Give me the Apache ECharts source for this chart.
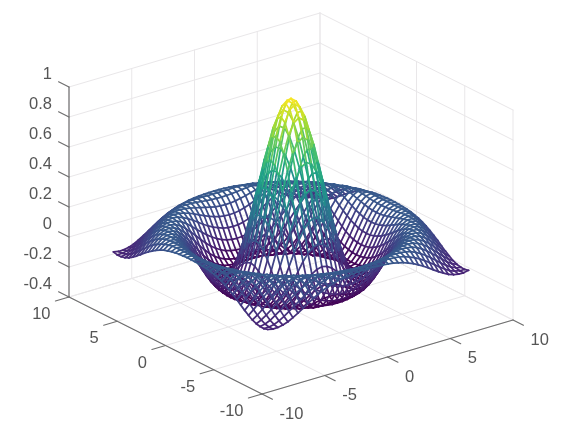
<!DOCTYPE html>
<html>
<head>
<meta charset="utf-8">
<style>html,body{margin:0;padding:0;background:#fff}#c{width:568px;height:430px}</style>
<script src="https://cdn.jsdelivr.net/npm/echarts@6/dist/echarts.min.js"></script>
</head>
<body>
<div id="c"></div>
<script>
// ---- data -----------------------------------------------------------
const xTicks = [-10, -5, 0, 5, 10];
const yTicks = [-10, -5, 0, 5, 10];
const zTicks = [-0.4, -0.2, 0, 0.2, 0.4, 0.6, 0.8, 1];
const zTickLabels = ['-0.4', '-0.2', '0', '0.2', '0.4', '0.6', '0.8', '1'];
const meshCoords = [-8,-7.6,-7.2,-6.8,-6.4,-6,-5.6,-5.2,-4.8,-4.4,-4,-3.6,-3.2,-2.8,-2.4,-2,-1.6,-1.2,-0.8,-0.4,0,
  0.4,0.8,1.2,1.6,2,2.4,2.8,3.2,3.6,4,4.4,4.8,5.2,5.6,6,6.4,6.8,7.2,7.6,8];
// Heights of one octant of the surface (row r, columns r..20, centre first).
const zOctant = [
  [1,.974,.897,.777,.625,.455,.281,.120,-.018,-.123,-.189,-.216,-.208,-.170,-.113,-.047,.018,.073,.110,.127,.124],
  [.947,.872,.754,.604,.437,.267,.109,-.026,-.127,-.191,-.216,-.207,-.168,-.111,-.045,.020,.074,.111,.127,.124],
  [.800,.688,.546,.388,.227,.078,-.047,-.141,-.197,-.217,-.203,-.162,-.104,-.038,.025,.078,.113,.127,.122],
  [.584,.455,.311,.165,.032,-.080,-.160,-.205,-.216,-.196,-.152,-.092,-.026,.035,.085,.116,.128,.120],
  [.341,.214,.088,-.026,-.118,-.181,-.213,-.214,-.185,-.137,-.076,-.012,.047,.093,.120,.128,.117],
  [.109,.006,-.086,-.157,-.200,-.217,-.205,-.170,-.117,-.055,.007,.062,.102,.124,.127,.112],
  [-.074,-.141,-.189,-.214,-.214,-.191,-.148,-.092,-.031,.027,.077,.111,.127,.125,.104],
  [-.184,-.210,-.216,-.201,-.168,-.119,-.062,-.003,.050,.093,.119,.128,.120,.096],
  [-.217,-.207,-.179,-.137,-.085,-.029,.025,.073,.107,.125,.126,.112,.083],
  [-.182,-.146,-.099,-.047,.007,.055,.094,.118,.128,.122,.100,.069],
  [-.104,-.055,-.004,.041,.082,.111,.126,.126,.113,.086,.051],
  [-.009,.035,.074,.105,.123,.128,.120,.098,.068,.032],
  [.072,.101,.120,.128,.124,.107,.080,.047,.011],
  [.119,.127,.125,.112,.089,.058,.023,-.012],
  [.126,.114,.094,.065,.033,-.001,-.034],
  [.095,.069,.038,.006,-.026,-.054],
  [.040,.010,-.022,-.049,-.072],
  [-.020,-.046,-.069,-.084],
  [-.068,-.083,-.090],
  [-.090,-.091],
  [-.084]
];
const viridis = ['#440154','#482878','#3e4989','#31688e','#26828e','#1f9e89','#35b779','#6ece58','#b5de2b','#fde725'];

// ---- 3D view --------------------------------------------------------
const XR = [-10, 10], YR = [-10, 10], ZR = [-0.4, 1];
const view = { ox: 262, oy: 394, xdx: 251, xdy: -74, ydx: -193, ydy: -97, zpx: 150 };
function project(x, y, z) {
  const u = (x - XR[0]) / (XR[1] - XR[0]), v = (y - YR[0]) / (YR[1] - YR[0]);
  return [view.ox + u * view.xdx + v * view.ydx,
          view.oy + u * view.xdy + v * view.ydy - (z - ZR[0]) * view.zpx];
}
function segItem(params, api) {
  const a = api.coord(project(api.value(0), api.value(1), api.value(2)));
  const b = api.coord(project(api.value(3), api.value(4), api.value(5)));
  return { a, b };
}

// ---- derived rows ----------------------------------------------------
const mid = (meshCoords.length - 1) / 2, last = meshCoords.length - 1;
function heightAt(i, j) {
  const a = Math.abs(i - mid), b = Math.abs(j - mid);
  const lo = Math.min(a, b), hi = Math.max(a, b);
  return zOctant[lo][hi - lo];
}
const zMinData = -0.217, zMaxData = 1;
const meshRows = [];
meshCoords.forEach((x, i) => meshCoords.forEach((y, j) => {
  const z = heightAt(i, j);
  if (i < last) meshRows.push([x, y, z, meshCoords[i + 1], y, heightAt(i + 1, j)]);
  if (j < last) meshRows.push([x, y, z, x, meshCoords[j + 1], heightAt(i, j + 1)]);
}));
meshRows.sort((p, q) => (q[0] + q[1] + q[3] + q[4]) - (p[0] + p[1] + p[3] + p[4]));

const gridRows = [];
xTicks.forEach(x => {
  gridRows.push([x, YR[0], ZR[0], x, YR[1], ZR[0]]);
  gridRows.push([x, YR[1], ZR[0], x, YR[1], ZR[1]]);
});
yTicks.forEach(y => {
  gridRows.push([XR[0], y, ZR[0], XR[1], y, ZR[0]]);
  gridRows.push([XR[1], y, ZR[0], XR[1], y, ZR[1]]);
});
zTicks.forEach(z => {
  gridRows.push([XR[0], YR[1], z, XR[1], YR[1], z]);
  gridRows.push([XR[1], YR[1], z, XR[1], YR[0], z]);
});

const tickUnits = 1.08;
const axisRows = [
  [XR[0], YR[0], ZR[0], XR[1], YR[0], ZR[0]],
  [XR[0], YR[0], ZR[0], XR[0], YR[1], ZR[0]],
  [XR[0], YR[1], ZR[0], XR[0], YR[1], ZR[1]]
];
xTicks.forEach(x => axisRows.push([x, YR[0], ZR[0], x, YR[0] - tickUnits, ZR[0]]));
yTicks.forEach(y => axisRows.push([XR[0], y, ZR[0], XR[0] - tickUnits, y, ZR[0]]));
zTicks.forEach(z => axisRows.push([XR[0], YR[1], z, XR[0], YR[1] + tickUnits, z]));

const labelRows = [];
xTicks.forEach(x => labelRows.push([x, YR[0], ZR[0], String(x), 17.5, 20, 'left']));
yTicks.forEach(y => labelRows.push([XR[0], y, ZR[0], String(y), -18.5, 17.5, 'right']));
zTicks.forEach((z, k) => labelRows.push([XR[0], YR[1], z, zTickLabels[k], -17, -12.5, 'right']));

function lineSeries(rows, z, colorOf, width) {
  return {
    type: 'custom', coordinateSystem: 'cartesian2d', data: rows, z,
    silent: true, animation: false, progressive: 0, clip: false,
    encode: { x: 0, y: 1 },
    renderItem(params, api) {
      const s = segItem(params, api);
      return {
        type: 'line',
        shape: { x1: s.a[0], y1: s.a[1], x2: s.b[0], y2: s.b[1] },
        style: { stroke: colorOf(api), lineWidth: width, fill: null, lineCap: 'round' }
      };
    }
  };
}

const chart = echarts.init(document.getElementById('c'), null, { renderer: 'canvas' });
chart.setOption({
  animation: false,
  backgroundColor: '#ffffff',
  grid: { left: 0, right: 0, top: 0, bottom: 0 },
  xAxis: { type: 'value', min: 0, max: 568, show: false },
  yAxis: { type: 'value', min: 0, max: 430, inverse: true, show: false },
  series: [
    lineSeries(gridRows, 1, () => '#e9e7e9', 1),
    lineSeries(axisRows, 2, () => '#6e6e6e', 1.2),
    lineSeries(meshRows, 3, api => {
      const t = ((api.value(2) + api.value(5)) / 2 - zMinData) / (zMaxData - zMinData);
      return echarts.color.lerp(Math.max(0, Math.min(1, t)), viridis);
    }, 1.75),
    {
      type: 'custom', coordinateSystem: 'cartesian2d', data: labelRows, z: 4,
      silent: true, animation: false, progressive: 0, clip: false,
      encode: { x: 0, y: 1 },
      renderItem(params, api) {
        const p = api.coord(project(api.value(0), api.value(1), api.value(2)));
        const row = labelRows[params.dataIndex];
        return {
          type: 'text',
          x: p[0] + row[4], y: p[1] + row[5],
          style: {
            text: row[3], fill: '#555555', align: row[6], verticalAlign: 'middle',
            font: '16.5px "Liberation Sans", Arial, sans-serif'
          }
        };
      }
    }
  ]
});
</script>
</body>
</html>
